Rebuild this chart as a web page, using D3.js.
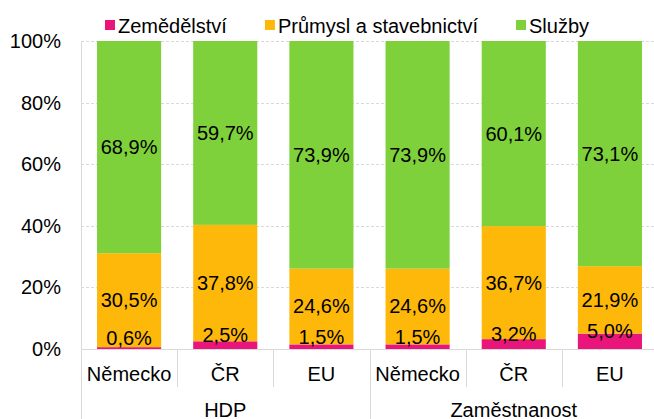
<!DOCTYPE html>
<html>
<head>
<meta charset="utf-8">
<script src="https://cdn.jsdelivr.net/npm/d3@7"></script>
<style>
  body { margin: 0; background: #fff; }
  text { font-family: "Liberation Sans", Arial, sans-serif; font-size: 20px; fill: #000; }
</style>
</head>
<body>
<script>
// categories and groups
var categories = ["Německo", "ČR", "EU", "Německo", "ČR", "EU"];
var groups = ["HDP", "Zaměstnanost"];
var seriesNames = ["Zemědělství", "Průmysl a stavebnictví", "Služby"];
var seriesColors = ["#ea157a", "#feb80a", "#7fd13b"];

// values in %
var zemedelstvi = [0.6, 2.5, 1.5, 1.5, 3.2, 5.0];
var prumysl = [30.5, 37.8, 24.6, 24.6, 36.7, 21.9];
var sluzby = [68.9, 59.7, 73.9, 73.9, 60.1, 73.1];

var yTicks = [0, 20, 40, 60, 80, 100];

var width = 654;
var height = 419;

var svg = d3.select("body")
  .append("svg")
  .attr("width", width)
  .attr("height", height);

var plotLeft = 81, plotRight = 658, plotTop = 41, plotBottom = 349;

var x = d3.scaleBand()
  .domain(d3.range(categories.length))
  .range([plotLeft, plotRight])
  .paddingInner(1 / 3)
  .paddingOuter(1 / 6);

var y = d3.scaleLinear()
  .domain([0, 100])
  .range([plotBottom, plotTop]);

// gridlines
svg.selectAll(".grid")
  .data(yTicks.filter(function(d) { return d > 0; }))
  .enter()
  .append("line")
  .attr("x1", plotLeft)
  .attr("x2", plotRight)
  .attr("y1", function(d) { return Math.round(y(d)) + 0.5; })
  .attr("y2", function(d) { return Math.round(y(d)) + 0.5; })
  .style("stroke", "#d9d9d9")
  .style("stroke-width", 1)
  .style("stroke-dasharray", "3,2");

// y tick labels
svg.selectAll(".ylab")
  .data(yTicks)
  .enter()
  .append("text")
  .attr("x", 61)
  .attr("y", function(d) { return y(d); })
  .attr("dy", "0.35em")
  .attr("text-anchor", "end")
  .text(function(d) { return d + "%"; });

// stack data
var rows = categories.map(function(c, i) {
  return { i: i, a: zemedelstvi[i], b: prumysl[i], c: sluzby[i] };
});
var stack = d3.stack().keys(["a", "b", "c"]);
var series = stack(rows);

var fmt = function(v) { return v.toFixed(1).replace(".", ",") + "%"; };

series.forEach(function(s, k) {
  svg.selectAll(".bar" + k)
    .data(s)
    .enter()
    .append("rect")
    .attr("x", function(d) { return x(d.data.i); })
    .attr("width", x.bandwidth())
    .attr("y", function(d) { return y(d[1]); })
    .attr("height", function(d) { return y(d[0]) - y(d[1]); })
    .style("fill", seriesColors[k]);
});

// axes lines
svg.append("line")
  .attr("x1", plotLeft).attr("x2", plotRight)
  .attr("y1", plotBottom + 0.5).attr("y2", plotBottom + 0.5)
  .style("stroke", "#d9d9d9");

svg.append("line")
  .attr("x1", plotLeft + 0.5).attr("x2", plotLeft + 0.5)
  .attr("y1", plotTop).attr("y2", height)
  .style("stroke", "#d9d9d9");

// separators between categories
var step = x.step();
d3.range(1, categories.length + 1).forEach(function(i) {
  var xs = Math.round(plotLeft + i * step) + 0.5;
  var isGroup = (i % 3 === 0);
  svg.append("line")
    .attr("x1", xs).attr("x2", xs)
    .attr("y1", plotBottom)
    .attr("y2", isGroup ? height : 387)
    .style("stroke", "#d9d9d9");
});

// data labels
series.forEach(function(s, k) {
  svg.selectAll(".lab" + k)
    .data(s)
    .enter()
    .append("text")
    .attr("x", function(d) { return x(d.data.i) + x.bandwidth() / 2; })
    .attr("y", function(d) {
      var c = (y(d[0]) + y(d[1])) / 2;
      return k === 0 ? c - 10 : c;
    })
    .attr("dy", "0.35em")
    .attr("text-anchor", "middle")
    .text(function(d) { return fmt(d[1] - d[0]); });
});

// category labels
svg.selectAll(".cat")
  .data(categories)
  .enter()
  .append("text")
  .attr("x", function(d, i) { return x(i) + x.bandwidth() / 2; })
  .attr("y", 381)
  .attr("text-anchor", "middle")
  .text(function(d) { return d; });

// group labels
svg.selectAll(".grp")
  .data(groups)
  .enter()
  .append("text")
  .attr("x", function(d, i) { return plotLeft + (i * 3 + 1.5) * step; })
  .attr("y", 417)
  .attr("text-anchor", "middle")
  .text(function(d) { return d; });

// legend
var lx = 105;
seriesNames.forEach(function(n, k) {
  svg.append("rect")
    .attr("x", lx).attr("y", 20)
    .attr("width", 10).attr("height", 10)
    .style("fill", seriesColors[k]);
  var t = svg.append("text")
    .attr("x", lx + 13)
    .attr("y", 33)
    .text(n);
  lx = lx + 13 + t.node().getComputedTextLength() + 38;
});
</script>
</body>
</html>
